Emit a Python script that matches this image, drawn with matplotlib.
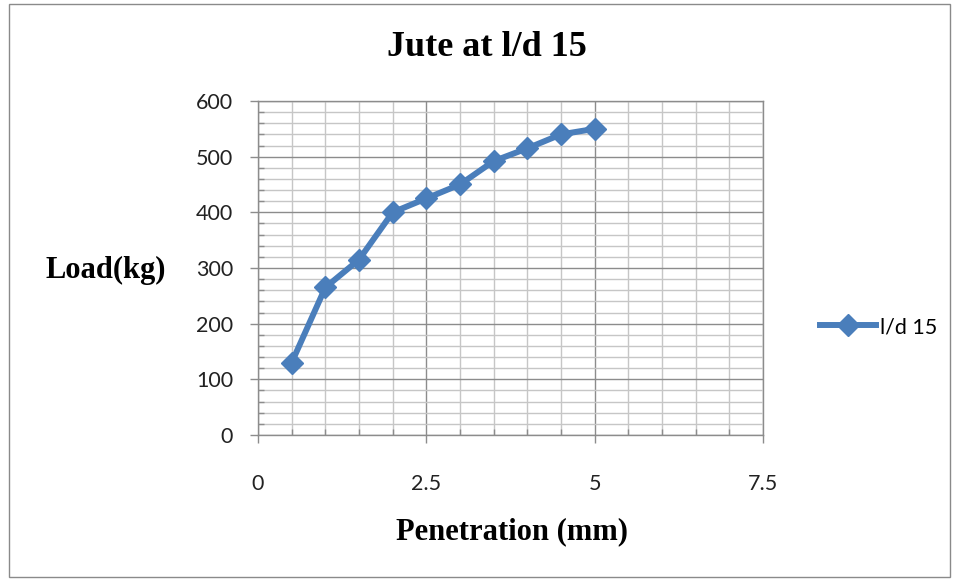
import matplotlib.pyplot as plt
from matplotlib.patches import Rectangle
from matplotlib.ticker import MultipleLocator

# penetration (mm) vs load (kg)
penetration = [0.5, 1.0, 1.5, 2.0, 2.5, 3.0, 3.5, 4.0, 4.5, 5.0]
load = [130, 265, 315, 400, 425, 450, 492, 515, 540, 550]
series_label = "l/d 15"

blue = "#4a7ebb"
major_grey = "#8c8c8c"
minor_grey = "#c6c6c6"

fig = plt.figure(figsize=(9.59, 5.80), dpi=100, facecolor="w")
fig.patches.append(Rectangle((0.009, 0.005), 0.982, 0.988, transform=fig.transFigure,
                             fill=False, edgecolor="#8a8a8a", linewidth=1.0))

ax = fig.add_axes([258 / 959, 145 / 580, 505 / 959, 334 / 580])
ax.set_xlim(0, 7.5)
ax.set_ylim(0, 600)

ax.xaxis.set_major_locator(MultipleLocator(2.5))
ax.xaxis.set_minor_locator(MultipleLocator(0.5))
ax.yaxis.set_major_locator(MultipleLocator(100))
ax.yaxis.set_minor_locator(MultipleLocator(20))

ax.grid(which="minor", color=minor_grey, linewidth=1.0)
ax.grid(which="major", color=major_grey, linewidth=1.0)
ax.set_axisbelow(True)

for side in ["top", "right"]:
    ax.spines[side].set_visible(False)
for side in ["left", "bottom"]:
    ax.spines[side].set_color(major_grey)
    ax.spines[side].set_linewidth(1.0)

# edge gridlines at the top and right limit
ax.axhline(600, color=major_grey, linewidth=1.0, clip_on=False, zorder=0.5)
ax.axvline(7.5, color=major_grey, linewidth=1.0, clip_on=False, zorder=0.5)

tick_font = {"family": "Lato", "size": 15.5}
ax.tick_params(axis="x", which="major", direction="out", length=6, width=1,
               color=major_grey, pad=22)
ax.tick_params(axis="x", which="minor", direction="in", length=4, width=1,
               color=major_grey)
ax.tick_params(axis="y", which="major", direction="out", length=6, width=1,
               color=major_grey, pad=12)
ax.tick_params(axis="y", which="minor", direction="in", length=4, width=1,
               color=major_grey)
ax.set_xticks([0, 2.5, 5, 7.5])
ax.set_xticklabels(["0", "2.5", "5", "7.5"], fontdict=tick_font, color="#222222")
ax.set_yticks(range(0, 601, 100))
ax.set_yticklabels([str(v) for v in range(0, 601, 100)], fontdict=tick_font,
                   color="#222222")

ax.plot(penetration, load, color=blue, linewidth=4.3, marker="D", markersize=11,
        markerfacecolor=blue, markeredgecolor=blue, label=series_label,
        clip_on=False, zorder=3)

serif = {"family": "Liberation Serif", "weight": "bold"}
fig.text(487 / 959, 1 - 48 / 580, "Jute at l/d 15", ha="center", va="center",
         fontsize=26, **serif)
fig.text(512 / 959, 1 - 532 / 580, "Penetration (mm)", ha="center", va="center",
         fontsize=22, **serif)
fig.text(106 / 959, 1 - 270 / 580, "Load(kg)", ha="center", va="center",
         fontsize=22, **serif)

fig.legend(loc="center left", bbox_to_anchor=(811 / 959, 1 - 327 / 580),
           frameon=False, prop={"family": "Lato", "size": 15.5}, handlelength=2.6,
           handletextpad=0.2, borderaxespad=0)

fig.savefig("out.png", dpi=100)
